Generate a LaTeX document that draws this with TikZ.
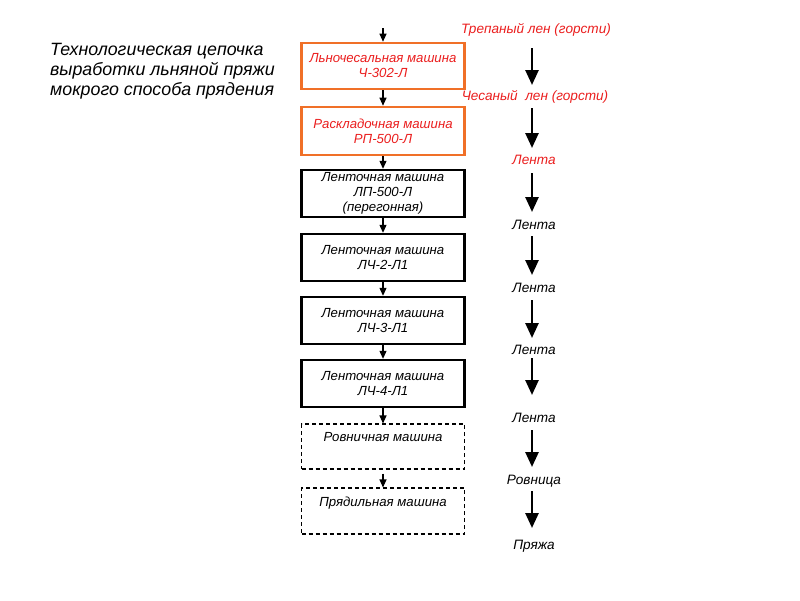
\documentclass[tikz,border=0pt]{standalone}
\usepackage{fontspec}
\setmainfont{Liberation Sans}
\usetikzlibrary{arrows.meta}
\definecolor{boxorange}{RGB}{240,112,40}
\definecolor{labred}{RGB}{235,30,30}
\begin{document}
\begin{tikzpicture}[x=1pt,y=-1pt,
  machine/.style={draw, minimum width=163pt, inner sep=0pt, align=center, font=\fontsize{13.2}{15}\selectfont\itshape},
  orangebox/.style={machine, draw=boxorange, line width=2.6pt, text=labred},
  blackbox/.style={machine, line width=2.4pt},
  dashbox/.style={machine, line width=1.1pt, dash pattern=on 4pt off 3pt},
  prod/.style={inner sep=0pt, text height=9pt, text depth=3pt, font=\fontsize{13.6}{15}\selectfont\itshape},
  flow/.style={-{Triangle[width=13pt,length=15pt]}, line width=2.6pt},
  feed/.style={-{Triangle[width=7pt,length=8pt]}, line width=1.1pt},
]
\fill[white] (0,0) rectangle (800,600);
\useasboundingbox (0,0) rectangle (800,600);

\node[anchor=west, align=left, inner sep=0pt, font=\fontsize{17.8}{20}\selectfont\itshape] (title) at (50,71.5)
  {Технологическая цепочка\\выработки льняной пряжи\\мокрого способа прядения};

% machines
\node[orangebox, minimum height=46pt] (m1) at (383,66) {Льночесальная машина\\Ч-302-Л};
\node[orangebox, minimum height=48pt] (m2) at (383,131) {Раскладочная машина\\РП-500-Л};
\node[blackbox, minimum height=47pt] (m3) at (383,193.5) {Ленточная машина\\ЛП-500-Л\\(перегонная)};
\node[blackbox, minimum height=47pt] (m4) at (383,257.5) {Ленточная машина\\ЛЧ-2-Л1};
\node[blackbox, minimum height=47pt] (m5) at (383,320.5) {Ленточная машина\\ЛЧ-3-Л1};
\node[blackbox, minimum height=47pt] (m6) at (383,383.5) {Ленточная машина\\ЛЧ-4-Л1};
\node[dashbox, minimum height=45pt] (m7) at (383,446.5) {Ровничная машина\\\strut};
\node[dashbox, minimum height=46pt] (m8) at (383,511) {Прядильная машина\\\strut};

\coordinate (in) at (383,28);
\draw[feed] (in) -- (m1);
\draw[feed] (m1) -- (m2);
\draw[feed] (m2) -- (m3);
\draw[feed] (m3) -- (m4);
\draw[feed] (m4) -- (m5);
\draw[feed] (m5) -- (m6);
\draw[feed] (m6) -- (m7);
\draw[feed, shorten <=4pt] (m7) -- (m8);

% products
\node[prod, text=labred] (p0) at (536,30) {Трепаный лен (горсти)};
\node[prod, text=labred] (p1) at (535,97) {Чесаный\ \ лен (горсти)};
\node[prod, text=labred] (p2) at (534,161) {Лента};
\node[prod] (p3) at (534,226) {Лента};
\node[prod] (p4) at (534,289) {Лента};
\node[prod] (p5) at (534,351) {Лента};
\node[prod] (p6) at (534,419) {Лента};
\node[prod] (p7) at (534,481) {Ровница};
\node[prod] (p8) at (534,546) {Пряжа};

\coordinate (a0) at (532,30);
\coordinate (a1) at (532,97);
\coordinate (a2) at (532,161);
\coordinate (a3) at (532,226);
\coordinate (a4) at (532,289);
\coordinate (a5) at (532,351);
\coordinate (a6) at (532,419);
\coordinate (a7) at (532,481);
\coordinate (a8) at (532,546);

\draw[flow, shorten <=18pt, shorten >=12pt] (a0) -- (a1);
\draw[flow, shorten <=11pt, shorten >=13pt] (a1) -- (a2);
\draw[flow, shorten <=12pt, shorten >=14pt] (a2) -- (a3);
\draw[flow, shorten <=10pt, shorten >=14pt] (a3) -- (a4);
\draw[flow, shorten <=11pt, shorten >=13pt] (a4) -- (a5);
\draw[flow, shorten <=7pt, shorten >=24pt] (a5) -- (a6);
\draw[flow, shorten <=11pt, shorten >=14pt] (a6) -- (a7);
\draw[flow, shorten <=10pt, shorten >=18pt] (a7) -- (a8);
\end{tikzpicture}
\end{document}
